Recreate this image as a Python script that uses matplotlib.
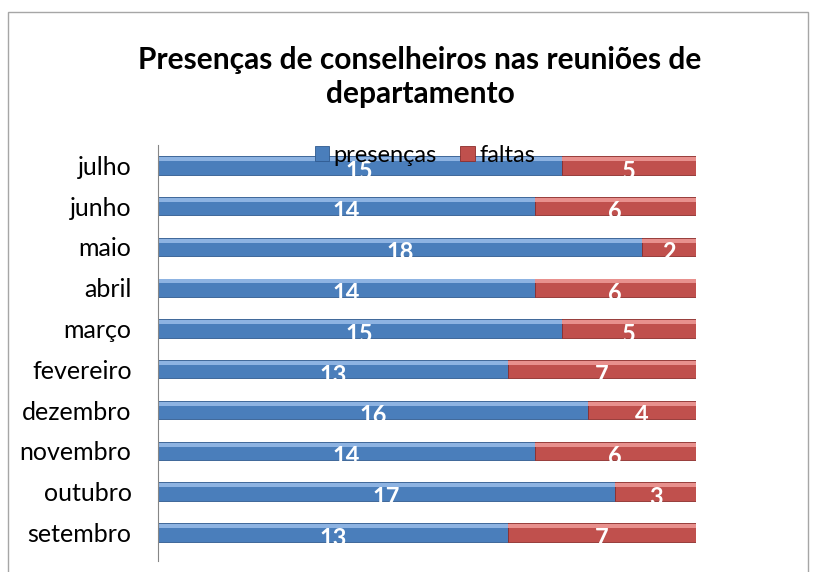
import matplotlib
matplotlib.use("Agg")
import matplotlib.pyplot as plt
from matplotlib.patches import Rectangle

plt.rcParams["font.family"] = ["Lato", "DejaVu Sans"]

# Données (de bas en haut)
meses = ["setembro", "outubro", "novembro", "dezembro", "fevereiro",
         "março", "abril", "maio", "junho", "julho"]
presencas = [13, 17, 14, 16, 13, 15, 14, 18, 14, 15]
faltas = [7, 3, 6, 4, 7, 5, 6, 2, 6, 5]

azul, azul_claro, azul_escuro = "#4a7ebb", "#8db3e2", "#2f5a8f"
vermelho, vermelho_claro, vermelho_escuro = "#c0504d", "#e8908d", "#8c2c2a"

fig = plt.figure(figsize=(8.17, 5.72), dpi=100)
fig.patches.append(Rectangle((8 / 817, -0.05), 800 / 817, 1 - 12 / 572 + 0.05,
                             transform=fig.transFigure, fill=False,
                             edgecolor="#a6a6a6", linewidth=1))
ax = fig.add_axes([158 / 817, 11 / 572, 538 / 817, 416 / 572])

pos = list(range(len(meses)))
altura = 0.45

# barras principais
ax.barh(pos, presencas, height=altura, color=azul, edgecolor=azul_escuro,
        linewidth=0.6, label="presenças")
ax.barh(pos, faltas, left=presencas, height=altura, color=vermelho,
        edgecolor=vermelho_escuro, linewidth=0.6, label="faltas")

# efeito de relevo (faixa clara no topo)
topo = [p + altura / 2 - 0.07 for p in pos]
ax.barh(topo, presencas, height=0.1, color=azul_claro, linewidth=0)
ax.barh(topo, faltas, left=presencas, height=0.1, color=vermelho_claro, linewidth=0)

for p, a, b in zip(pos, presencas, faltas):
    ax.text(a / 2, p - 0.14, str(a), ha="center", va="center", color="white",
            fontsize=17, fontweight="bold")
    ax.text(a + b / 2, p - 0.14, str(b), ha="center", va="center", color="white",
            fontsize=17, fontweight="bold")

ax.set_xlim(0, 20)
ax.set_ylim(-0.7, 9.5)
ax.set_yticks(pos)
ax.set_yticklabels(meses, fontsize=18)
ax.tick_params(axis="y", length=0, pad=19)
ax.set_xticks([])
for lado in ["top", "right", "bottom"]:
    ax.spines[lado].set_visible(False)
ax.spines["left"].set_color("#868686")

fig.text(0.514, 1 - 77 / 572, "Presenças de conselheiros nas reuniões de\ndepartamento",
         ha="center", va="center", fontsize=21.5, fontweight="bold",
         linespacing=1.3)

leg = ax.legend(loc="center", bbox_to_anchor=(425 / 817, 1 - 155 / 572),
                bbox_transform=fig.transFigure, ncol=2, frameon=False,
                fontsize=17, handlelength=0.6, handleheight=0.6,
                handletextpad=0.2, columnspacing=1.0, borderpad=0)

fig.savefig("out.png", dpi=100)
